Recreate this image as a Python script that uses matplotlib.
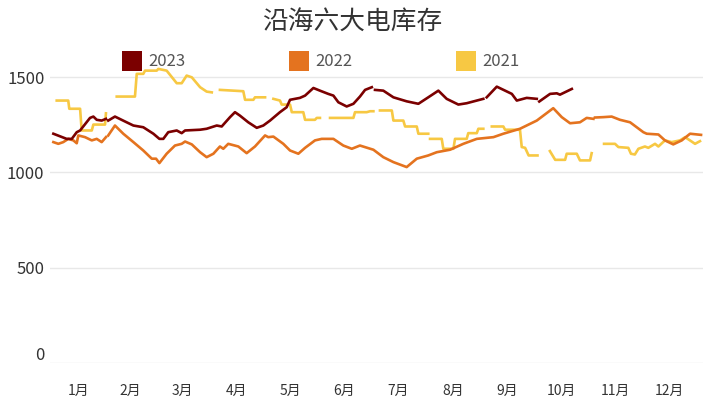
import numpy as np
import matplotlib
matplotlib.use("Agg")
import matplotlib.pyplot as plt
from matplotlib.patches import Patch
from matplotlib.transforms import ScaledTranslation

plt.rcParams['font.family'] = ['Noto Sans CJK SC', 'DejaVu Sans']

title = "沿海六大电库存"
series_names = ["2023", "2022", "2021"]
month_labels = ["1月", "2月", "3月", "4月", "5月", "6月", "7月", "8月", "9月", "10月", "11月", "12月"]
month_days = [31, 28, 31, 30, 31, 30, 31, 31, 30, 31, 30, 31]
y_ticks = [0, 500, 1000, 1500]

N = None  # gap in the data

# day of year and value (万吨) for each series; None marks a gap
day_2023 = [1.5, 9, 11.9, 14.7, 16.6, 22.2, 24.1, 26, 28.8, 31.2, N,
            32.5, 36.3, 42.9, 46.7, 52.3, 58, 61.4, 63.6, 66.4, 71.2, 74, 75.9, 84.4, 88.1,
            93.8, 96.6, 101.3, 104.1, 106.9, 111.6, 116.4, 120.1, 123.9, 129.5, 133.3, 135.2,
            140.8, 143.7, 148.4, 152.1, 156.8, 159.7, 162.5, 167.2, 171, 174.7, 177.6, 181.4, N,
            183.2, 187.9, 193.6, 201.1, 207.7, 213.3, 219, 223.7, 230.3, 235, 240.7, 244.4, N,
            246.3, 252, 256.7, 260.5, 263.3, 268.9, 274.6, N,
            276, 282.1, 285.9, 287.7, 294.4]
val_2023 = [1203, 1176, 1176, 1211, 1220, 1286, 1293, 1276, 1272, 1281, N,
            1272, 1293, 1263, 1246, 1237, 1203, 1176, 1176, 1211, 1220, 1206, 1220, 1224, 1229,
            1246, 1241, 1290, 1316, 1298, 1263, 1234, 1246, 1272, 1316, 1342, 1381,
            1391, 1403, 1443, 1429, 1412, 1403, 1368, 1346, 1360, 1398, 1433, 1447, N,
            1433, 1429, 1394, 1373, 1360, 1394, 1429, 1386, 1356, 1363, 1377, 1386, N,
            1394, 1450, 1429, 1412, 1377, 1391, 1386, N,
            1372, 1412, 1415, 1408, 1438]

day_2022 = [1.5, 4.3, 7.1, 9.9, 12.8, 14.7, 15.6, 19.4, 23.2, 26, 28.8, 31.2, N,
            32.5, 36.3, 41, 46.7, 52.3, 57.1, 59.5, 61.4, 65.5, 70.2, 74, 75.9, 79.7, 84.4,
            88.1, 91.9, 95.6, 97.5, 100.3, 106, 110.7, 115.4, 121.1, 122.9, 125.8, 131.4,
            135.2, 139.9, 143.7, 149.3, 153.1, 159.7, 165.3, 170.1, 174.7, 182.3, 187.9,
            193.6, 201.1, 206.8, 213.3, 218.1, 225.6, 233.1, 240.7, 250.1, 255.7, 265.1,
            274.6, 283.9, 288.7, 293.4, 299, 302.8, 306.6, N,
            307.5, 312.2, 316.9, 321.6, 327.3, 334.8, 336.7, 343.3, 347, 351.7, 356.5, 361.2, 367.4]
val_2022 = [1159, 1150, 1159, 1176, 1168, 1153, 1194, 1185, 1168, 1176, 1159, 1185, N,
            1194, 1246, 1203, 1159, 1115, 1072, 1072, 1049, 1098, 1141, 1150, 1162, 1147, 1106,
            1080, 1098, 1136, 1124, 1150, 1136, 1101, 1136, 1194, 1185, 1188, 1150,
            1115, 1098, 1129, 1168, 1176, 1176, 1141, 1124, 1141, 1119, 1080,
            1054, 1028, 1072, 1089, 1106, 1119, 1150, 1176, 1185, 1203, 1229,
            1272, 1337, 1290, 1258, 1263, 1286, 1281, N,
            1288, 1290, 1293, 1276, 1263, 1211, 1203, 1199, 1168, 1147, 1168, 1203, 1197]

day_2021 = [3.4, 9.9, 10.5, 16.6, 17.5, 23.2, 24.1, 30.7, 31.2, N,
            37.3, 47.6, 48.6, 52.3, 53.3, 59.9, 60.8, 65.5, 71.2, 74, 76.8, 79.7, 84.4, 88.1, 91, N,
            95.6, 103.2, 108.8, 109.8, 114.5, 115.4, 121.1, N,
            125.8, 129.5, 130.5, 135.2, 136.2, 142.7, 143.7, 149.3, 150.3, 152.1, N,
            157.8, 171, 171.9, 178.5, 180.4, 182.3, N,
            186, 192.7, 193.6, 199.2, 200.2, 206.8, 207.7, 213.3, N,
            214.3, 220.9, 221.8, 227.5, 228.4, 235, 235.9, 240.7, 241.6, 244.4, N,
            249.2, 255.7, 256.7, 265.1, 266.1, 268, 270, 275, N,
            282, 285, 290.6, 291.5, 297.2, 299, 304.7, 305.6, N,
            312.6, 318.8, 320.7, 326.3, 327.8, 330, 332, 335.7, 337.6, 341.4, 343.3, 347,
            350.8, 355.5, 358.4, 364, 366.8]
val_2021 = [1377, 1377, 1334, 1334, 1220, 1220, 1251, 1251, 1310, N,
            1398, 1398, 1517, 1517, 1534, 1534, 1543, 1534, 1468, 1468, 1508, 1499, 1447, 1424, 1420, N,
            1433, 1429, 1426, 1381, 1381, 1394, 1394, N,
            1386, 1377, 1356, 1356, 1316, 1316, 1276, 1276, 1286, 1286, N,
            1286, 1286, 1316, 1316, 1321, 1321, N,
            1325, 1325, 1272, 1272, 1241, 1241, 1203, 1203, N,
            1176, 1176, 1124, 1124, 1176, 1176, 1206, 1206, 1229, 1229, N,
            1241, 1241, 1224, 1224, 1133, 1129, 1089, 1089, N,
            1112, 1066, 1066, 1098, 1098, 1063, 1063, 1101, N,
            1150, 1150, 1133, 1129, 1098, 1094, 1124, 1136, 1129, 1150, 1136, 1168,
            1159, 1168, 1185, 1150, 1164]

colors = ["#7B0000", "#E4731F", "#F7C843"]


def arr(a):
    return np.array([np.nan if v is None else v for v in a], dtype=float)


fig = plt.figure(figsize=(7.03, 4.16), dpi=100)
ax = fig.add_axes([50 / 703, 53 / 416, 653 / 703, 324 / 416])

# draw order: 2021 at back, 2022, then 2023 on top
series = [(day_2023, val_2023), (day_2022, val_2022), (day_2021, val_2021)]
for idx in [2, 1, 0]:
    d, v = series[idx]
    ax.plot(arr(d), arr(v), color=colors[idx], lw=1.9, solid_joinstyle='round', zorder=3 + (2 - idx))

ax.set_xlim(-0.4, 368.5)
ax.set_ylim(0, 1700)

# month ticks at mid-month
starts = np.concatenate([[0], np.cumsum(month_days)[:-1]])
mids = starts + np.array(month_days) / 2.0
ax.set_xticks(mids)
ax.set_xticklabels(month_labels, fontsize=10, color="#333333")
ax.tick_params(axis='x', length=0, pad=15)

ax.set_yticks(y_ticks)
ax.set_yticklabels([str(t) for t in y_ticks], fontsize=12, color="#333333")
ax.tick_params(axis='y', length=0, pad=4)
for lab in ax.get_yticklabels():
    if lab.get_text() == "0":
        lab.set_transform(lab.get_transform() + ScaledTranslation(0, 7 / 72, fig.dpi_scale_trans))

ax.grid(axis='y', color="#E8E8E8", lw=1.0)
ax.set_axisbelow(True)
for s in ax.spines.values():
    s.set_visible(False)

fig.text(352 / 703, 1 - 22 / 416, title, ha='center', va='center', fontsize=18.5, color="#333333")

handles = [Patch(facecolor=c, edgecolor='none') for c in colors]
leg_x = [122, 289, 456]
for hx, name, c in zip(leg_x, series_names, colors):
    fig.patches.append(plt.Rectangle((hx / 703, 1 - 71 / 416), 20 / 703, 20 / 416,
                                     transform=fig.transFigure, facecolor=c, edgecolor='none'))
    fig.text((hx + 26) / 703, 1 - 62 / 416, name, ha='left', va='center', fontsize=12, color="#555555")

fig.savefig("out.png", dpi=100)
